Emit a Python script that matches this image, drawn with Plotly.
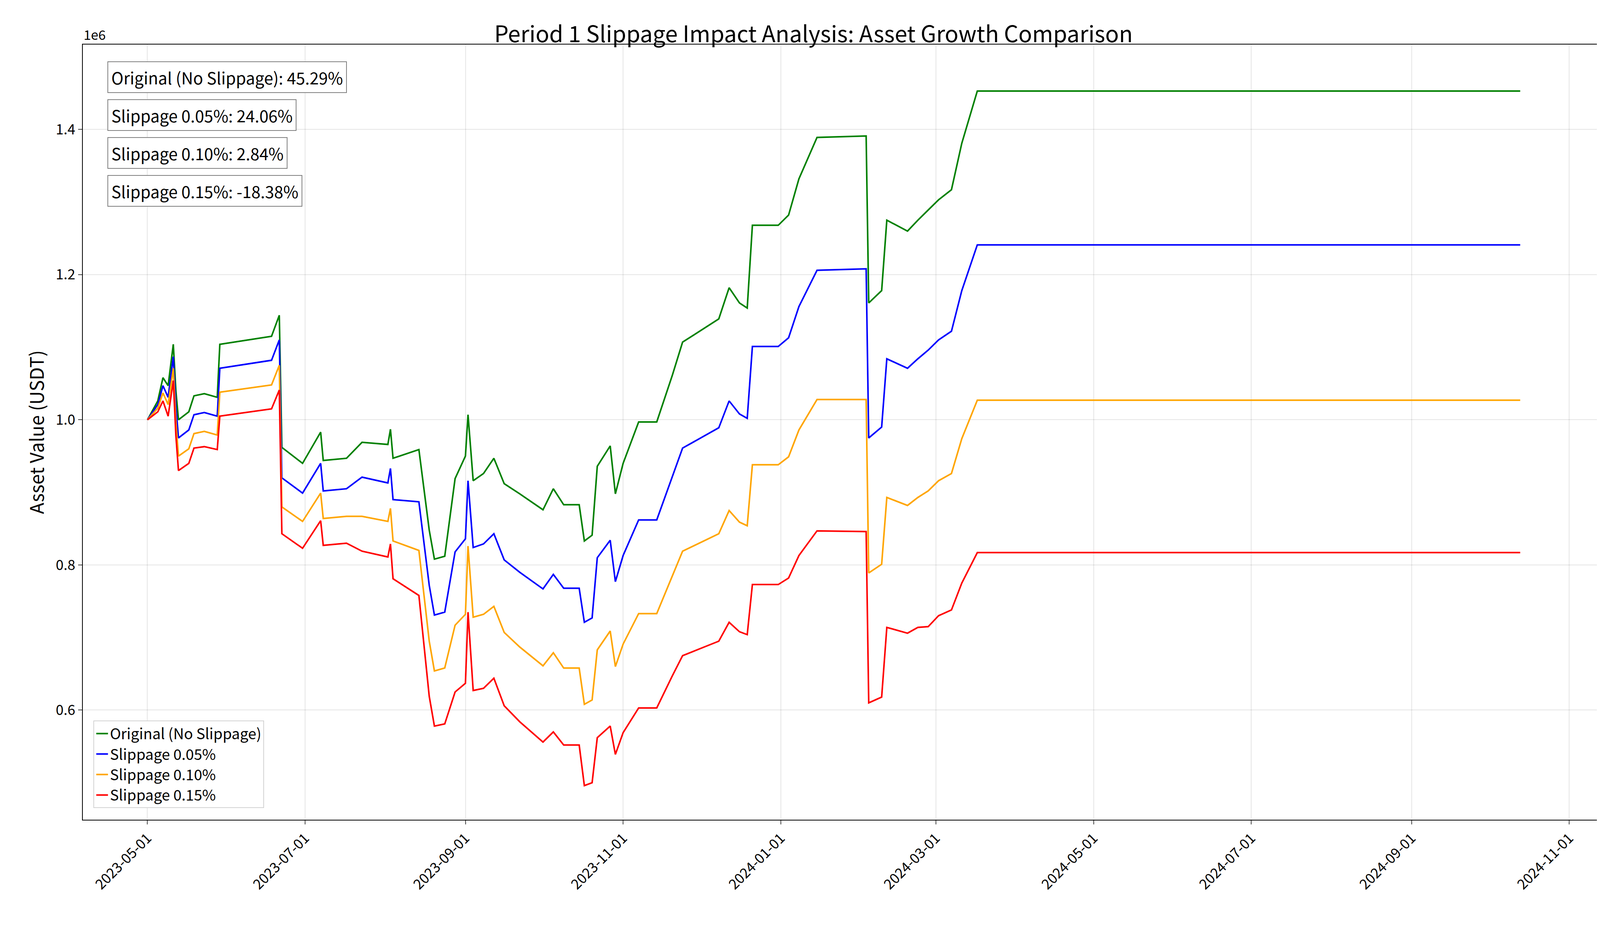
import plotly.graph_objects as go

dates = ["2023-05-01","2023-05-05","2023-05-07","2023-05-09","2023-05-11","2023-05-12","2023-05-13","2023-05-17","2023-05-19","2023-05-23",
"2023-05-28","2023-05-29","2023-06-18","2023-06-21","2023-06-22","2023-06-30","2023-07-07","2023-07-08","2023-07-17","2023-07-23",
"2023-08-02","2023-08-03","2023-08-04","2023-08-14","2023-08-18","2023-08-20","2023-08-24","2023-08-28","2023-09-01","2023-09-02",
"2023-09-04","2023-09-08","2023-09-12","2023-09-16","2023-09-22","2023-10-01","2023-10-05","2023-10-09","2023-10-15","2023-10-17",
"2023-10-20","2023-10-22","2023-10-27","2023-10-29","2023-11-01","2023-11-07","2023-11-14","2023-11-20","2023-11-24","2023-12-08",
"2023-12-12","2023-12-16","2023-12-19","2023-12-21","2023-12-31","2024-01-04","2024-01-08","2024-01-15","2024-02-03","2024-02-04",
"2024-02-09","2024-02-11","2024-02-19","2024-02-23","2024-02-27","2024-03-02","2024-03-07","2024-03-11","2024-03-17","2024-10-13"]

original = [1.000,1.026,1.058,1.047,1.104,1.040,1.000,1.011,1.033,1.036,
1.031,1.104,1.115,1.144,0.962,0.940,0.983,0.944,0.947,0.969,
0.966,0.987,0.947,0.959,0.848,0.808,0.812,0.919,0.950,1.007,
0.916,0.926,0.947,0.912,0.898,0.876,0.905,0.883,0.883,0.833,
0.841,0.936,0.964,0.898,0.940,0.997,0.997,1.061,1.107,1.139,
1.182,1.161,1.154,1.268,1.268,1.282,1.332,1.389,1.391,1.161,
1.178,1.275,1.260,1.275,1.289,1.303,1.317,1.381,1.453,1.453]

slip005 = [1.000,1.021,1.047,1.031,1.087,1.019,0.975,0.986,1.007,1.010,
1.005,1.071,1.082,1.110,0.920,0.899,0.940,0.902,0.905,0.921,
0.913,0.933,0.890,0.887,0.772,0.731,0.735,0.818,0.836,0.916,
0.824,0.829,0.843,0.807,0.790,0.767,0.787,0.768,0.768,0.721,
0.727,0.810,0.834,0.777,0.813,0.862,0.862,0.921,0.961,0.989,
1.026,1.008,1.002,1.101,1.101,1.113,1.156,1.206,1.208,0.975,
0.990,1.084,1.071,1.084,1.096,1.110,1.122,1.178,1.241,1.241]

slip010 = [1.000,1.016,1.037,1.021,1.071,0.998,0.950,0.960,0.981,0.984,
0.979,1.038,1.048,1.075,0.880,0.860,0.899,0.864,0.867,0.867,
0.860,0.878,0.833,0.820,0.695,0.654,0.658,0.717,0.732,0.826,
0.728,0.732,0.743,0.707,0.687,0.661,0.679,0.658,0.658,0.608,
0.614,0.683,0.709,0.660,0.691,0.733,0.733,0.785,0.819,0.843,
0.875,0.859,0.854,0.938,0.938,0.949,0.986,1.028,1.028,0.789,
0.801,0.893,0.882,0.893,0.902,0.916,0.926,0.974,1.027,1.027]

slip015 = [1.000,1.011,1.026,1.005,1.054,0.978,0.930,0.940,0.961,0.963,
0.959,1.005,1.015,1.041,0.843,0.823,0.861,0.827,0.830,0.819,
0.811,0.829,0.781,0.758,0.619,0.578,0.581,0.625,0.637,0.735,
0.627,0.630,0.644,0.606,0.584,0.556,0.570,0.552,0.552,0.496,
0.500,0.562,0.578,0.539,0.569,0.603,0.603,0.647,0.675,0.695,
0.721,0.708,0.704,0.773,0.773,0.782,0.813,0.847,0.846,0.610,
0.618,0.714,0.706,0.714,0.715,0.730,0.738,0.775,0.817,0.817]

names = ["Original (No Slippage)", "Slippage 0.05%", "Slippage 0.10%", "Slippage 0.15%"]
colors = ["green", "blue", "orange", "red"]
returns = ["45.29%", "24.06%", "2.84%", "-18.38%"]
series = [original, slip005, slip010, slip015]

F = "Noto Sans CJK KR"
fig = go.Figure()
for n, c, s in zip(names, colors, series):
    fig.add_trace(go.Scatter(x=dates, y=s, mode="lines", name=n, line=dict(color=c, width=4)))

for i, (n, r) in enumerate(zip(names, returns)):
    fig.add_annotation(xref="paper", yref="paper", x=0.016, y=0.958 - i*0.049, xanchor="left", yanchor="middle",
                       text=f"{n}: {r}", showarrow=False, font=dict(size=42, family=F, color="black"),
                       bgcolor="white", bordercolor="gray", borderwidth=2, borderpad=8)
fig.add_annotation(xref="paper", yref="paper", x=0, y=1.0, xanchor="left", yanchor="bottom",
                   text="1e6", showarrow=False, font=dict(size=34, family=F, color="black"))

ax = dict(showline=True, linecolor="black", linewidth=2, mirror=True, showgrid=True,
          gridcolor="rgba(0,0,0,0.1)", gridwidth=2, ticks="outside", ticklen=10, tickwidth=2,
          tickfont=dict(size=36, family=F, color="black"), zeroline=False)
fig.update_layout(
    width=4149, height=2370, plot_bgcolor="white", paper_bgcolor="white",
    margin=dict(l=204, r=27, t=106, b=280),
    title=dict(text="Period 1 Slippage Impact Analysis: Asset Growth Comparison", x=0.5, y=0.975, yanchor="top",
               font=dict(size=58, family=F, color="black")),
    xaxis=dict(ax, range=["2023-04-06", "2024-11-18"], tickformat="%Y-%m-%d", tickangle=-45,
               tickvals=["2023-05-01","2023-07-01","2023-09-01","2023-11-01","2024-01-01","2024-03-01",
                         "2024-05-01","2024-07-01","2024-09-01","2024-11-01"]),
    yaxis=dict(ax, range=[0.449, 1.517], tickvals=[0.6, 0.8, 1.0, 1.2, 1.4], tickformat=".1f",
               title=dict(text="Asset Value (USDT)", font=dict(size=48, family=F, color="black"))),
    legend=dict(x=0.007, y=0.015, xanchor="left", yanchor="bottom", bgcolor="white", bordercolor="lightgray",
                borderwidth=2, font=dict(size=38, family=F, color="black")),
)
fig.write_html("out.html")
